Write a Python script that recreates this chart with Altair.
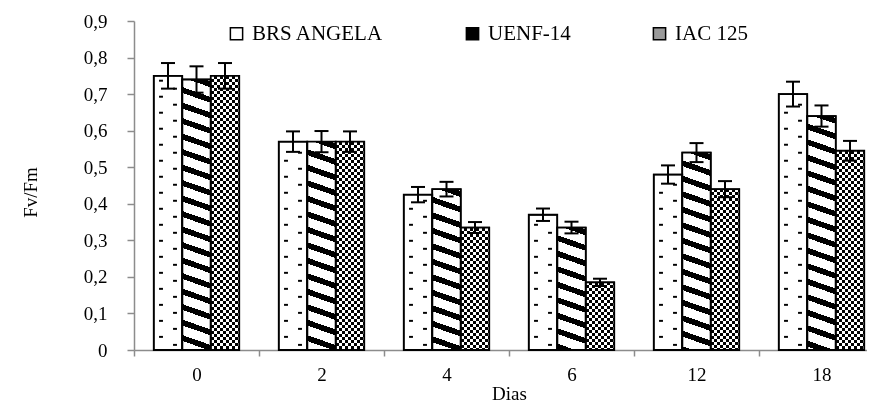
import altair as alt
import pandas as pd

# ---------------- data ----------------
dias = ["0", "2", "4", "6", "12", "18"]
cultivares = ["BRS ANGELA", "UENF-14", "IAC 125"]
brs_angela = [0.75, 0.57, 0.425, 0.37, 0.48, 0.70]
uenf_14 = [0.74, 0.57, 0.44, 0.335, 0.54, 0.64]
iac_125 = [0.75, 0.57, 0.335, 0.185, 0.44, 0.545]
brs_angela_err = [0.035, 0.028, 0.021, 0.017, 0.025, 0.034]
uenf_14_err = [0.036, 0.029, 0.02, 0.016, 0.026, 0.029]
iac_125_err = [0.035, 0.028, 0.015, 0.01, 0.022, 0.027]
y_ticks = [0.0, 0.1, 0.2, 0.3, 0.4, 0.5, 0.6, 0.7, 0.8, 0.9]

# ---------------- layout / style ----------------
FONT = "Liberation Serif"
PLOT_W, PLOT_H = 733, 329
STEP = 125                       # width of one day group (band)
OFF_PAD = 0.693                  # outer padding of the cultivar sub-band
Y_MAX = 0.9
BAR_W = STEP / (3 + 2 * OFF_PAD)
PX_PER_UNIT = PLOT_H / Y_MAX
AX_GRAY = "#8c8c8c"

rows = []
for vals, errs, cult in [(brs_angela, brs_angela_err, cultivares[0]),
                         (uenf_14, uenf_14_err, cultivares[1]),
                         (iac_125, iac_125_err, cultivares[2])]:
    for d, v, e in zip(dias, vals, errs):
        rows.append({"Dias": d, "Cultivar": cult, "valor": v, "lo": v - e, "hi": v + e})
df = pd.DataFrame(rows)

# pattern helper rows for the dotted BRS ANGELA bars (decoration only)
dot_rows = []
for d, v in zip(dias, brs_angela):
    k = 0
    y = 0.014
    while y < v - 0.012:
        dot_rows.append({"Dias": d, "Cultivar": cultivares[0], "valor": y,
                         "lado": "dir" if k % 2 == 0 else "esq"})
        k += 1
        y += 0.0219
dots = pd.DataFrame(dot_rows)


def ylabel_expr():
    return "datum.value == 0 ? '0' : replace(format(datum.value, '.1f'), '.', ',')"


x_axis = alt.Axis(title="Dias", labelAngle=0, tickBand="extent",
                  domainColor=AX_GRAY, tickColor=AX_GRAY, domainWidth=1.5, tickWidth=1.5,
                  tickSize=6, labelFont=FONT, labelFontSize=19, labelColor="black",
                  labelPadding=9, titleFont=FONT, titleFontSize=19, titleFontWeight="normal",
                  titleColor="black", titleY=49, titleBaseline="alphabetic")
y_axis = alt.Axis(title="Fv/Fm", values=y_ticks, labelExpr=ylabel_expr(),
                  domainColor=AX_GRAY, tickColor=AX_GRAY, domainWidth=1.5, tickWidth=1.5,
                  tickSize=7, labelFont=FONT, labelFontSize=19, labelColor="black",
                  labelPadding=20, grid=False, titleFont=FONT, titleFontSize=19,
                  titleFontWeight="normal", titleColor="black", titleX=-104, titleY=171,
                  titleAngle=270, titleAlign="center", titleBaseline="middle")

X = lambda: alt.X("Dias:N", axis=x_axis,
                  scale=alt.Scale(domain=dias, range=[0, 6 * STEP], paddingInner=0, paddingOuter=0))
XO = lambda: alt.XOffset("Cultivar:N",
                         scale=alt.Scale(domain=cultivares, paddingInner=0, paddingOuter=OFF_PAD))
YS = alt.Scale(domain=[0, Y_MAX], nice=False)


def Y(field):
    return alt.Y(f"{field}:Q", scale=YS, axis=y_axis)


def diag_gradient(h, w, slope=0.35, period=15.5, frac=0.38):
    """Diagonal '\\' stripes with a fixed pixel period inside a bar of h x w px."""
    R = h + slope * w
    a = -slope * w / R
    b = h / R
    n2 = a * a + b * b
    dx, dy = a / n2, b / n2
    stops = [{"color": "white", "offset": 0}]
    off = 2.0
    while off < R:
        s0 = off / R
        s1 = min((off + frac * period) / R, 1.0)
        stops += [{"color": "white", "offset": s0}, {"color": "black", "offset": s0},
                  {"color": "black", "offset": s1}, {"color": "white", "offset": s1}]
        off += period
    stops.append({"color": "white", "offset": 1})
    return {"gradient": "linear", "x1": 1, "y1": 0, "x2": 1 + dx, "y2": dy, "stops": stops}


def stripe_gradient(length, period, c_on, c_off, vertical):
    stops = [{"color": c_off, "offset": 0}]
    off = 0.0
    while off < length:
        s0 = off / length
        s1 = min((off + period / 2) / length, 1.0)
        stops += [{"color": c_off, "offset": s0}, {"color": c_on, "offset": s0},
                  {"color": c_on, "offset": s1}, {"color": c_off, "offset": s1}]
        off += period
    stops.append({"color": c_off, "offset": 1})
    if vertical:   # stripes run vertically -> gradient along x
        return {"gradient": "linear", "x1": 0, "y1": 0, "x2": 1, "y2": 0, "stops": stops}
    return {"gradient": "linear", "x1": 0, "y1": 0, "x2": 0, "y2": 1, "stops": stops}


base = alt.Chart(df)

layers = []
# base bars (give the legend)
layers.append(base.mark_bar(stroke="black", strokeWidth=1.5).encode(
    x=X(), xOffset=XO(), y=Y("valor"),
    fill=alt.Fill("Cultivar:N", sort=cultivares,
                  scale=alt.Scale(domain=cultivares, range=["white", "black", "#9a9a9a"]),
                  legend=alt.Legend(title=None, orient="none", legendX=92, legendY=2,
                                    direction="horizontal", columns=3, symbolType="square",
                                    symbolSize=150, symbolStrokeColor="black",
                                    symbolStrokeWidth=1.5, labelFont=FONT, labelFontSize=21,
                                    labelColor="black", labelOffset=5, columnPadding=78,
                                    padding=0))))

# UENF-14 diagonal stripes, one layer per bar
for d, v in zip(dias, uenf_14):
    h = v * PX_PER_UNIT
    layers.append(base.transform_filter(
        (alt.datum.Cultivar == cultivares[1]) & (alt.datum.Dias == d)
    ).mark_bar(fill=diag_gradient(h, BAR_W)).encode(x=X(), xOffset=XO(), y=Y("valor")))

# IAC 125 checkerboard: horizontal stripes, then vertical stripes in difference blend
CELL = 3.0
for d, v in zip(dias, iac_125):
    h = v * PX_PER_UNIT
    layers.append(base.transform_filter(
        (alt.datum.Cultivar == cultivares[2]) & (alt.datum.Dias == d)
    ).mark_bar(fill=stripe_gradient(h, 2 * CELL, "black", "white", False)).encode(
        x=X(), xOffset=XO(), y=Y("valor")))
layers.append(base.transform_filter(alt.datum.Cultivar == cultivares[2]).mark_bar(
    fill=stripe_gradient(BAR_W, 2 * CELL, "white", "rgba(255,255,255,0)", True),
    blend="difference").encode(x=X(), xOffset=XO(), y=Y("valor")))

# outlines on top
layers.append(base.mark_bar(fillOpacity=0, stroke="black", strokeWidth=1.8).encode(
    x=X(), xOffset=XO(), y=Y("valor")))

# BRS ANGELA dots: small dashes, left and right column (custom symbol paths, unit = 14 px)
DASH_SIZE = 28 * 28
dash_left = "M-0.64,-0.07H-0.36V0.07H-0.64Z"
dash_right = "M0.36,-0.07H0.64V0.07H0.36Z"
dchart = alt.Chart(dots)
layers.append(dchart.transform_filter(alt.datum.lado == "esq").mark_point(
    shape=dash_left, size=DASH_SIZE, filled=True, color="black", opacity=1,
    strokeWidth=0).encode(x=X(), xOffset=XO(), y=Y("valor")))
layers.append(dchart.transform_filter(alt.datum.lado == "dir").mark_point(
    shape=dash_right, size=DASH_SIZE, filled=True, color="black", opacity=1,
    strokeWidth=0).encode(x=X(), xOffset=XO(), y=Y("valor")))

# error bars
layers.append(base.mark_rule(color="black", strokeWidth=2).encode(
    x=X(), xOffset=XO(), y=Y("lo"), y2="hi"))
layers.append(base.mark_tick(orient="horizontal", size=14, thickness=2, color="black",
                             opacity=1).encode(x=X(), xOffset=XO(), y=Y("hi")))
layers.append(base.mark_tick(orient="horizontal", size=14, thickness=2, color="black",
                             opacity=1).encode(x=X(), xOffset=XO(), y=Y("lo")))

chart = alt.layer(*layers).properties(
    width=PLOT_W, height=PLOT_H,
    autosize=alt.AutoSizeParams(type="none"),
    padding={"left": 126, "top": 13, "right": 0, "bottom": 53},
    background="white",
).configure_view(stroke=None)

chart.save("out.html", embed_options={"renderer": "svg", "actions": False})
